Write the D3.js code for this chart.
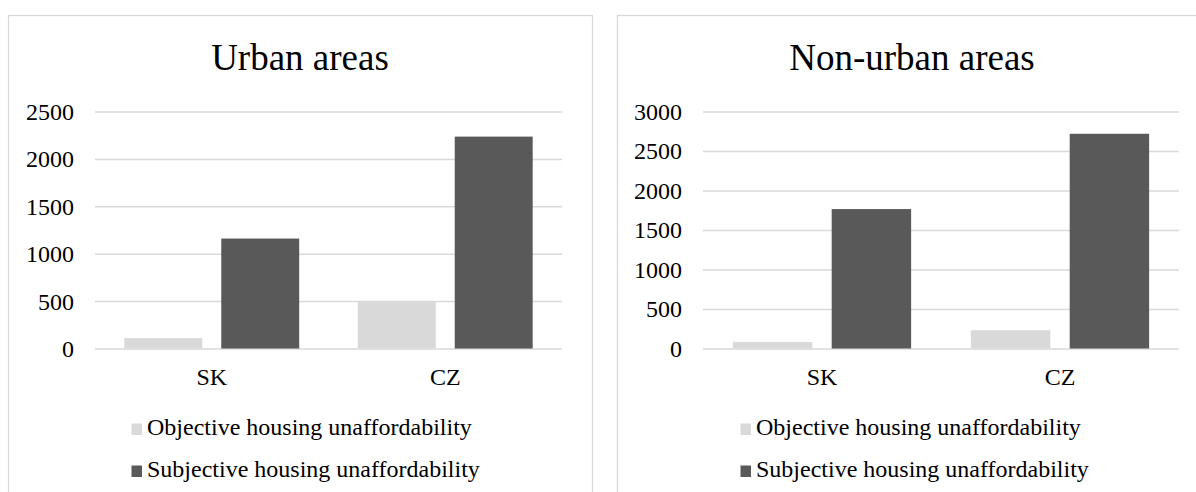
<!DOCTYPE html>
<html>
<head>
<meta charset="utf-8">
<script src="https://cdn.jsdelivr.net/npm/d3@7"></script>
<style>
  html, body { margin: 0; padding: 0; background: #ffffff; }
  svg { display: block; }
  text { font-family: "Liberation Serif", serif; fill: #000; }
</style>
</head>
<body>
<svg id="chart" width="1196" height="492"></svg>
<script>
// ---- Data ----
const categories = ["SK", "CZ"];
const seriesNames = ["Objective housing unaffordability", "Subjective housing unaffordability"];
const seriesColors = ["#d9d9d9", "#595959"];

const urbanTitle = "Urban areas";
const urbanObjective = [110, 490];
const urbanSubjective = [1160, 2235];
const urbanTicks = [0, 500, 1000, 1500, 2000, 2500];

const nonUrbanTitle = "Non-urban areas";
const nonUrbanObjective = [83, 231];
const nonUrbanSubjective = [1765, 2718];
const nonUrbanTicks = [0, 500, 1000, 1500, 2000, 2500, 3000];

// ---- Drawing ----
const FONT = "Liberation Serif, serif";
const svg = d3.select("#chart");

function drawPanel(cfg) {
  const g = svg.append("g").attr("font-family", FONT);
  // panel border
  g.append("rect")
    .attr("x", cfg.px + 0.5).attr("y", 15.5)
    .attr("width", cfg.pw).attr("height", 540)
    .attr("fill", "#fff").attr("stroke", "#d9d9d9").attr("stroke-width", 1.3);

  // title
  g.append("text")
    .attr("x", cfg.px + cfg.pw / 2).attr("y", 70)
    .attr("text-anchor", "middle")
    .attr("font-family", FONT)
    .attr("font-size", 37)
    .text(cfg.title);

  const yMax = cfg.ticks[cfg.ticks.length - 1];
  const y = d3.scaleLinear().domain([0, yMax]).range([348.5, 111.5]);
  const x0 = d3.scaleBand().domain(categories).range([cfg.plotL, cfg.plotR]).padding(0);
  const outer = x0.bandwidth() * 0.1255;
  const x1 = d3.scaleBand().domain(d3.range(seriesNames.length))
    .range([outer, x0.bandwidth() - outer]).paddingInner(0.196).paddingOuter(0);

  // gridlines via axis
  const yAxis = d3.axisLeft(y).tickValues(cfg.ticks)
    .tickSize(-(cfg.plotR - cfg.plotL)).tickPadding(21).tickFormat(d3.format("d"));
  const ag = g.append("g").attr("transform", `translate(${cfg.plotL},0)`).call(yAxis)
    .attr("font-family", FONT).attr("font-size", 24);
  ag.select(".domain").remove();
  ag.selectAll(".tick line").attr("stroke", "#d9d9d9").attr("stroke-width", 1.5);
  ag.selectAll(".tick text")
    .attr("font-family", FONT).attr("font-size", 24)
    .attr("fill", "#000").attr("dy", "0.33em");

  // bars
  const values = [cfg.objective, cfg.subjective];
  const groups = g.selectAll(".cat").data(categories).enter().append("g")
    .attr("transform", d => `translate(${x0(d)},0)`);
  groups.selectAll("rect")
    .data((d, i) => values.map((arr, s) => ({ s, v: arr[i] })))
    .enter().append("rect")
    .attr("x", d => x1(d.s))
    .attr("width", x1.bandwidth())
    .attr("y", d => y(d.v))
    .attr("height", d => y(0) - y(d.v))
    .attr("fill", d => seriesColors[d.s]);

  // category labels
  const xAxis = d3.axisBottom(x0).tickSize(0).tickPadding(0);
  const xg = g.append("g").attr("transform", `translate(0,${y(0)})`).call(xAxis)
    .attr("font-family", FONT).attr("font-size", 24);
  xg.select(".domain").remove();
  xg.selectAll(".tick text")
    .attr("font-family", FONT).attr("font-size", 24)
    .attr("fill", "#000").attr("y", 36.5).attr("dy", 0);

  // legend
  const lx = cfg.px + 123.5;
  const rows = [435, 477];
  seriesNames.forEach((name, i) => {
    g.append("rect")
      .attr("x", lx).attr("y", rows[i] - 11.5)
      .attr("width", 10.5).attr("height", 11.5)
      .attr("fill", seriesColors[i]);
    g.append("text")
      .attr("x", lx + 15.5).attr("y", rows[i])
      .attr("font-family", FONT)
      .attr("font-size", 24)
      .text(name);
  });
}

drawPanel({ px: 8, pw: 584, title: urbanTitle, ticks: urbanTicks,
  objective: urbanObjective, subjective: urbanSubjective, plotL: 95, plotR: 562 });
drawPanel({ px: 617, pw: 590, title: nonUrbanTitle, ticks: nonUrbanTicks,
  objective: nonUrbanObjective, subjective: nonUrbanSubjective, plotL: 703, plotR: 1179 });
</script>
</body>
</html>
